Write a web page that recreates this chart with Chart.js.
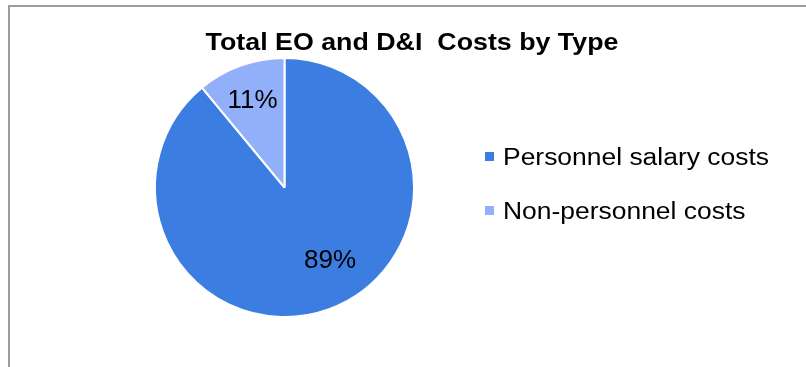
<!DOCTYPE html>
<html>
<head>
<meta charset="utf-8">
<title>Total EO and D&amp;I Costs by Type</title>
<script src="https://cdn.jsdelivr.net/npm/chart.js@4.4.1/dist/chart.umd.min.js"></script>
<style>
  html, body { margin: 0; padding: 0; background: #ffffff; }
  #wrap { width: 806px; height: 367px; position: relative; }
  canvas { display: block; }
</style>
</head>
<body>
<div id="wrap"><canvas id="chart" width="806" height="367"></canvas></div>
<script>
// Cost categories and their shares of the total (percent)
const categories = ['Personnel salary costs', 'Non-personnel costs'];
const shares = [89, 11];
const sliceColors = ['#3C7DE1', '#92B0FA'];
const chartTitle = 'Total EO and D\u0026I  Costs by Type';

const FONT = '"Liberation Sans", Arial, Helvetica, sans-serif';

// Frame line along the top and left edge of the chart box
const framePlugin = {
  id: 'frame',
  beforeDraw(chart) {
    const ctx = chart.ctx;
    ctx.save();
    ctx.fillStyle = '#ffffff';
    ctx.fillRect(0, 0, chart.width, chart.height);
    ctx.strokeStyle = '#9c9c9c';
    ctx.lineWidth = 2;
    ctx.beginPath();
    ctx.moveTo(9, chart.height);
    ctx.lineTo(9, 6);
    ctx.lineTo(chart.width, 6);
    ctx.stroke();
    ctx.restore();
  }
};

// Title, percentage labels and the side legend
const annotatePlugin = {
  id: 'annotate',
  afterDraw(chart, args, opts) {
    const ctx = chart.ctx;

    // wide text drawn with a horizontal stretch
    function wideText(text, x, y, font, align, stretch) {
      ctx.save();
      ctx.font = font;
      ctx.textBaseline = 'alphabetic';
      const w = ctx.measureText(text).width * stretch;
      let left = x;
      if (align === 'center') left = x - w / 2;
      ctx.translate(left, y);
      ctx.scale(stretch, 1);
      ctx.textAlign = 'left';
      ctx.fillText(text, 0, 0);
      ctx.restore();
    }

    ctx.save();
    ctx.fillStyle = '#000000';

    // title
    wideText(chartTitle, 412, 50, 'bold 23.5px ' + FONT, 'center', opts.titleStretch);

    // percentage labels inside the slices
    const meta = chart.getDatasetMeta(0);
    const data = chart.data.datasets[0].data;
    const total = data.reduce((a, b) => a + b, 0);
    ctx.font = '26px ' + FONT;
    ctx.textAlign = 'center';
    ctx.textBaseline = 'alphabetic';
    meta.data.forEach((arc, i) => {
      const p = arc.getProps(['x', 'y', 'startAngle', 'endAngle', 'outerRadius'], true);
      const mid = (p.startAngle + p.endAngle) / 2 + opts.angleShift[i] * Math.PI / 180;
      const r = p.outerRadius * opts.radialFraction[i];
      const cx = p.x + Math.cos(mid) * r;
      const cy = p.y + Math.sin(mid) * r;
      const pct = Math.round(data[i] / total * 100) + '%';
      ctx.fillText(pct, cx, cy + 26 * 0.36);
    });

    // legend
    const lx = 485, ly = 152, gap = 54, box = 9;
    chart.data.labels.forEach((label, i) => {
      const y = ly + i * gap;
      ctx.fillStyle = chart.data.datasets[0].backgroundColor[i];
      ctx.fillRect(lx, y, box, box);
      ctx.fillStyle = '#000000';
      wideText(label, lx + 18, y + 13, '23.5px ' + FONT, 'left', opts.legendStretch);
    });
    ctx.restore();
  }
};

new Chart(document.getElementById('chart'), {
  type: 'pie',
  data: {
    labels: categories,
    datasets: [{
      data: shares,
      backgroundColor: sliceColors,
      borderColor: '#ffffff',
      borderWidth: 2
    }]
  },
  options: {
    responsive: false,
    animation: false,
    rotation: 0,
    layout: { padding: { left: 154, top: 57, right: 391, bottom: 49 } },
    plugins: {
      legend: { display: false },
      title: { display: false },
      tooltip: { enabled: false },
      annotate: {
        titleStretch: 1.14,
        legendStretch: 1.125,
        radialFraction: [0.655, 0.73],
        angleShift: [-12.7, 0]
      }
    }
  },
  plugins: [framePlugin, annotatePlugin]
});
</script>
</body>
</html>
